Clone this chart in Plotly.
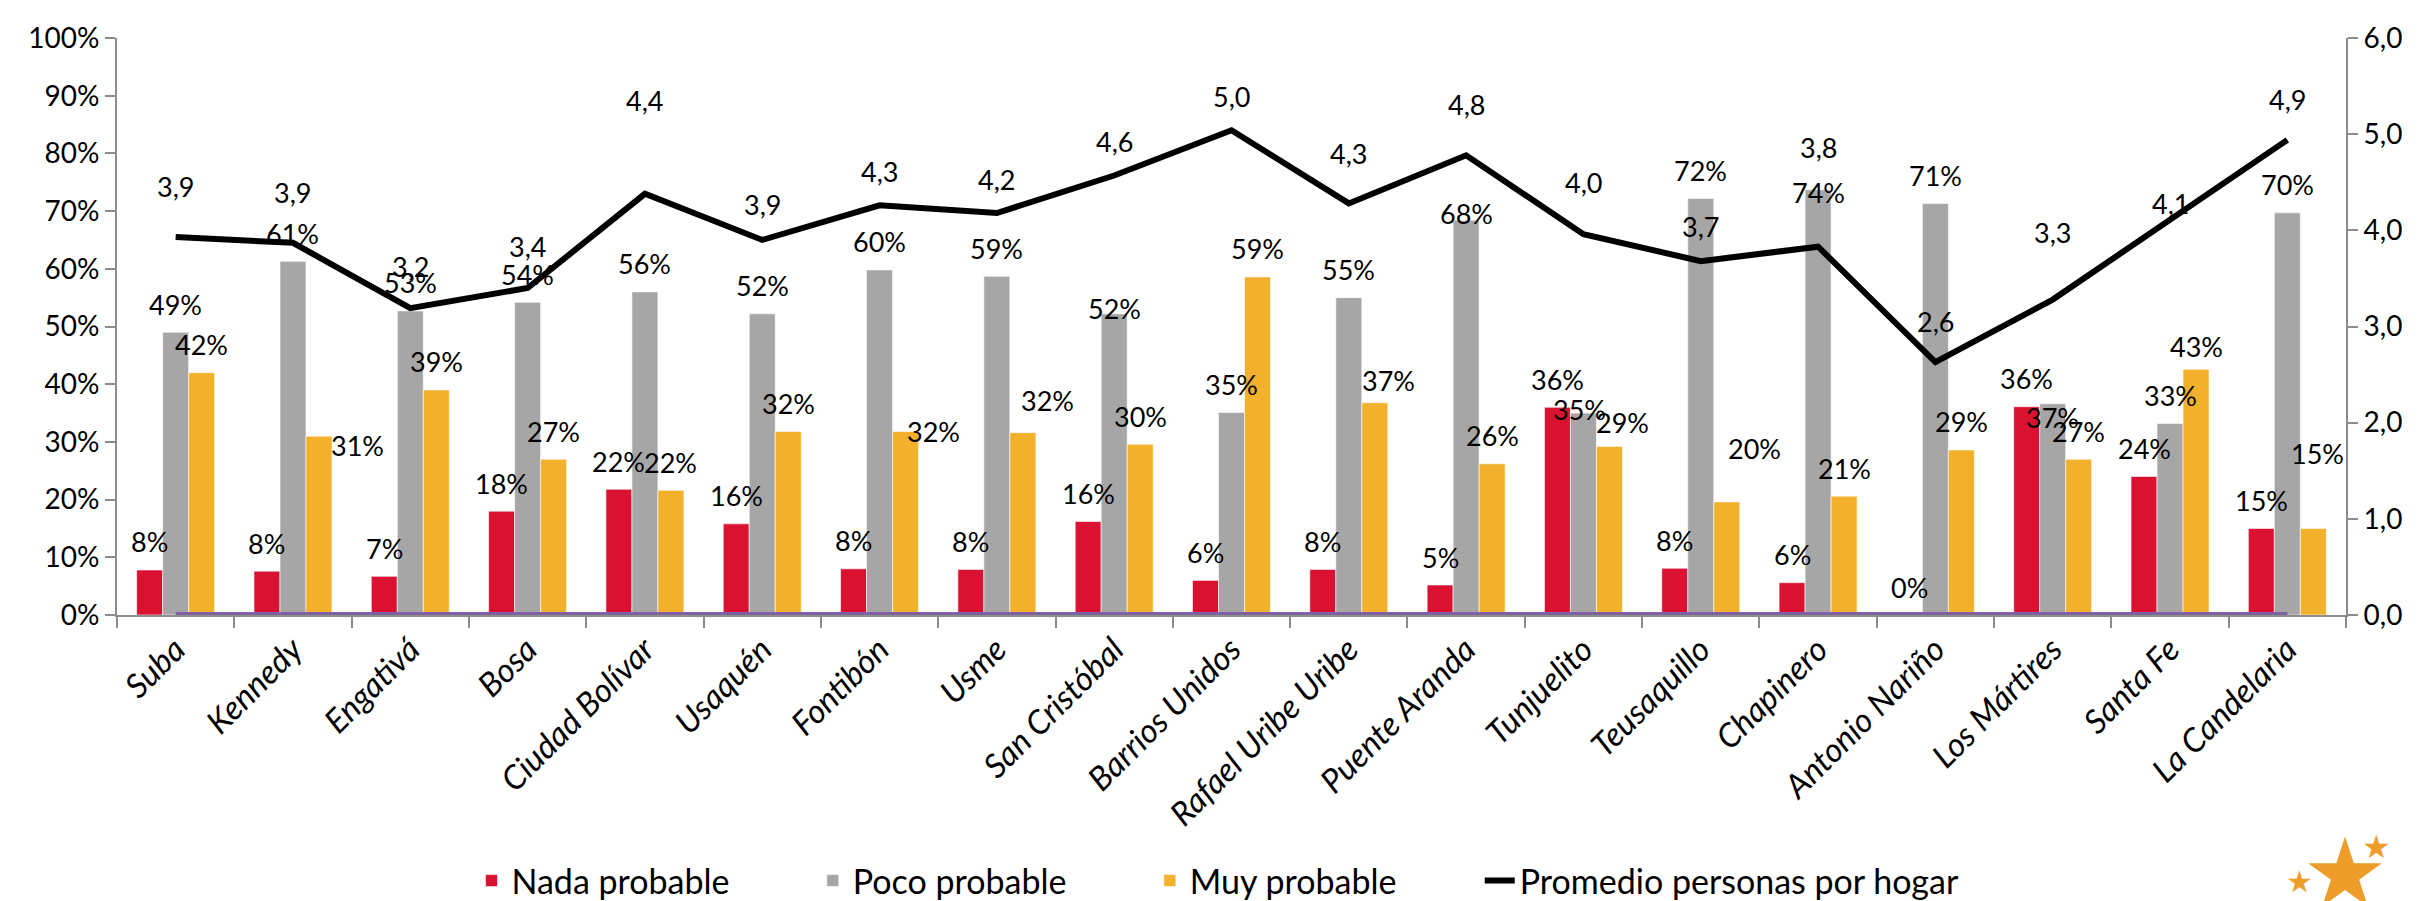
import plotly.graph_objects as go

localidades = ['Suba', 'Kennedy', 'Engativá', 'Bosa', 'Ciudad Bolívar', 'Usaquén',
               'Fontibón', 'Usme', 'San Cristóbal', 'Barrios Unidos',
               'Rafael Uribe Uribe', 'Puente Aranda', 'Tunjuelito', 'Teusaquillo',
               'Chapinero', 'Antonio Nariño', 'Los Mártires', 'Santa Fe',
               'La Candelaria']

nada_probable = [0.078, 0.076, 0.067, 0.18, 0.218, 0.158, 0.080, 0.079, 0.162,
                 0.06, 0.079, 0.052, 0.36, 0.081, 0.056, 0.0, 0.361, 0.24, 0.15]
poco_probable = [0.49, 0.613, 0.527, 0.542, 0.56, 0.522, 0.598, 0.587, 0.522,
                 0.351, 0.55, 0.684, 0.35, 0.722, 0.737, 0.713, 0.366, 0.332, 0.697]
muy_probable = [0.42, 0.31, 0.39, 0.27, 0.216, 0.318, 0.318, 0.316, 0.296,
                0.586, 0.368, 0.262, 0.292, 0.196, 0.206, 0.286, 0.27, 0.426, 0.15]
promedio_personas = [3.93, 3.87, 3.19, 3.40, 4.38, 3.90, 4.26, 4.18, 4.57, 5.04,
                     4.28, 4.78, 3.96, 3.68, 3.83, 2.63, 3.28, 4.11, 4.94]
linea_base = [0, 0, 0, 0, 0, 0, 0, 0, 0, 0, 0, 0, 0, 0, 0, 0, 0, 0, 0]

RED = '#DA1131'
GRAY = '#A6A6A6'
YELLOW = '#F2B02C'
FONT = 'Lato'
W, H = 2420, 901
L, R, T, B = 109, 82, 28, 294

# label placement (pixels): (dx, rise of label centre above bar top)
BAR_W = 26
bar_label_moves = {
    ('muy', 'Kennedy'): (39, -9),
    ('muy', 'Fontibón'): (28, 0),
    ('muy', 'Usme'): (25, 32),
    ('poco', 'San Cristóbal'): (0, 5),
    ('muy', 'Rafael Uribe Uribe'): (14, 22),
    ('poco', 'Puente Aranda'): (0, 7),
    ('poco', 'Tunjuelito'): (-4, 4),
    ('muy', 'Tunjuelito'): (13, 24),
    ('muy', 'Teusaquillo'): (28, 53),
    ('poco', 'Chapinero'): (0, -3),
    ('poco', 'Los Mártires'): (0, -14),
    ('muy', 'Santa Fe'): (0, 23),
    ('muy', 'La Candelaria'): (4, 75),
}
line_label_rise = [51, 50, 42, 42, 93, 35, 34, 34, 34, 34, 50, 51, 52, 35, 99,
                   41, 67, 16, 40]

PAD = '\u00a0' * 9

fig = go.Figure()
series = [('nada', 'Nada probable', nada_probable, RED, -1),
          ('poco', 'Poco probable', poco_probable, GRAY, 0),
          ('muy', 'Muy probable', muy_probable, YELLOW, 1)]

for key, name, vals, color, _ in series:
    fig.add_trace(go.Bar(
        x=localidades, y=vals, name=name + PAD,
        marker=dict(color=color, line=dict(color='rgba(255,255,255,0.6)', width=1)),
    ))

fig.add_trace(go.Scatter(
    x=localidades, y=linea_base, mode='lines', showlegend=False,
    line=dict(color='#7F62A1', width=6), cliponaxis=False, hoverinfo='skip'
))
fig.add_trace(go.Scatter(
    x=localidades, y=promedio_personas, mode='lines',
    name='Promedio personas por hogar', yaxis='y2',
    line=dict(color='black', width=6), cliponaxis=False
))

annotations = []
for key, name, vals, color, pos in series:
    for loc, v in zip(localidades, vals):
        dx, rise = bar_label_moves.get((key, loc), (0, 28))
        annotations.append(dict(
            x=loc, y=v, xref='x', yref='y', text=f'{round(v * 100)}%',
            showarrow=False, xshift=pos * BAR_W + dx, yshift=rise,
            yanchor='middle', font=dict(family=FONT, size=27, color='black')
        ))
for loc, v, rise in zip(localidades, promedio_personas, line_label_rise):
    annotations.append(dict(
        x=loc, y=v, xref='x', yref='y2',
        text=f'{v:.1f}'.replace('.', ','),
        showarrow=False, yshift=rise, yanchor='middle',
        font=dict(family=FONT, size=27, color='black')
    ))


def px_to_paper(x, y):
    return (x - L) / (W - L - R), (H - B - y) / (H - T - B)


# small logo in the bottom-right corner
for x, y, size in [(2337, 866, 96), (2368, 840, 32), (2291, 874, 30)]:
    px, py = px_to_paper(x, y)
    annotations.append(dict(
        x=px, y=py, xref='paper', yref='paper', text='★',
        showarrow=False, xanchor='center', yanchor='middle',
        font=dict(family='DejaVu Sans', size=size, color='#EE9D2A')
    ))
rx0, ry0 = px_to_paper(2321, 901)
rx1, ry1 = px_to_paper(2354, 896)

fig.update_layout(
    width=W, height=H,
    paper_bgcolor='white', plot_bgcolor='white',
    margin=dict(l=L, r=R, t=T, b=B),
    barmode='group', bargap=0.335, bargroupgap=0,
    separators=',.',
    font=dict(family=FONT, size=28, color='black'),
    xaxis=dict(
        showgrid=False, zeroline=False, showline=True, linecolor='#8C8C8C',
        linewidth=2, ticks='outside', ticklen=11, tickcolor='#8C8C8C',
        tickwidth=2, tickson='boundaries', tickangle=-45, layer='below traces',
        tickfont=dict(family=FONT, size=33, style='italic', color='black'),
    ),
    yaxis=dict(
        range=[0, 1], dtick=0.1, tickformat='.0%', showgrid=False,
        zeroline=False, showline=True, linecolor='#8C8C8C', linewidth=2,
        ticks='outside', ticklen=10, tickcolor='#8C8C8C', tickwidth=2,
        tickfont=dict(family=FONT, size=28, color='black'),
    ),
    yaxis2=dict(
        range=[0, 6], dtick=1, tickformat='.1f', overlaying='y', side='right',
        showgrid=False, zeroline=False, showline=True, linecolor='#8C8C8C',
        linewidth=2, ticks='outside', ticklen=10, tickcolor='#8C8C8C',
        tickwidth=2, tickfont=dict(family=FONT, size=28, color='black'),
    ),
    legend=dict(
        orientation='h', xref='container', yref='container',
        x=0.5, xanchor='center', y=1 - 873 / 901, yanchor='middle',
        font=dict(family=FONT, size=34, color='black'),
        traceorder='normal'
    ),
    annotations=annotations,
    shapes=[dict(type='rect', xref='paper', yref='paper',
                 x0=rx0, x1=rx1, y0=ry0, y1=ry1,
                 fillcolor=RED, line=dict(width=0))],
)

fig.write_html('out.html')
